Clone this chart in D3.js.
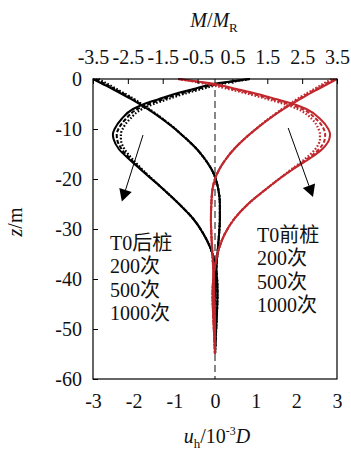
<!DOCTYPE html>
<html>
<head>
<meta charset="utf-8">
<script src="https://cdn.jsdelivr.net/npm/d3@7/dist/d3.min.js"></script>
<style>
  html, body { margin: 0; padding: 0; background: #fff; }
  svg { display: block; }
  text { font-family: "Liberation Serif", "Times New Roman", "Noto Sans CJK SC", serif; fill: #111; }
</style>
</head>
<body>
<svg id="chart" width="351" height="451"></svg>
<script>
// Depth below pile head (m)
const depth = [0, -1, -2, -3, -4, -5, -6, -8, -10, -11, -12, -14, -16, -18, -20, -22, -25, -28, -31, -34, -37, -40, -43, -46, -49, -52, -55];

// Horizontal displacement u_h / 10^-3 D
const rearDisp200  = [-2.87, -2.64, -2.42, -2.20, -1.99, -1.80, -1.62, -1.28, -0.97, -0.84, -0.70, -0.45, -0.25, -0.09, 0.02, 0.08, 0.12, 0.12, 0.10, 0.07, 0.04, 0.02, 0.00, -0.01, -0.01, 0.00, 0.00];
const rearDisp500  = [-2.94, -2.70, -2.47, -2.24, -2.03, -1.83, -1.64, -1.29, -0.98, -0.84, -0.70, -0.45, -0.25, -0.09, 0.02, 0.08, 0.12, 0.12, 0.10, 0.07, 0.04, 0.02, 0.00, -0.01, -0.01, 0.00, 0.00];
const rearDisp1000 = [-3.00, -2.76, -2.52, -2.29, -2.07, -1.86, -1.66, -1.30, -0.98, -0.84, -0.70, -0.45, -0.25, -0.09, 0.02, 0.08, 0.12, 0.12, 0.10, 0.07, 0.04, 0.02, 0.00, -0.01, -0.01, 0.00, 0.00];

const frontDisp200  = [2.87, 2.65, 2.44, 2.23, 2.02, 1.83, 1.65, 1.31, 1.00, 0.86, 0.72, 0.47, 0.27, 0.11, 0.00, -0.06, -0.09, -0.10, -0.09, -0.07, -0.05, -0.03, -0.02, -0.01, 0.00, 0.00, 0.00];
const frontDisp500  = [2.94, 2.71, 2.49, 2.27, 2.06, 1.86, 1.67, 1.32, 1.01, 0.86, 0.72, 0.47, 0.27, 0.11, 0.00, -0.06, -0.09, -0.10, -0.09, -0.07, -0.05, -0.03, -0.02, -0.01, 0.00, 0.00, 0.00];
const frontDisp1000 = [3.00, 2.77, 2.54, 2.31, 2.10, 1.89, 1.69, 1.33, 1.01, 0.86, 0.72, 0.47, 0.27, 0.11, 0.00, -0.06, -0.09, -0.10, -0.09, -0.07, -0.05, -0.03, -0.02, -0.01, 0.00, 0.00, 0.00];

// Bending moment M / M_R
const rearMoment200  = [1.00, 0.18, -0.38, -0.90, -1.34, -1.76, -2.09, -2.44, -2.65, -2.70, -2.70, -2.60, -2.37, -2.10, -1.80, -1.49, -1.03, -0.62, -0.33, -0.12, 0.00, 0.06, 0.07, 0.06, 0.04, 0.02, 0.00];
const rearMoment500  = [1.00, 0.07, -0.50, -1.03, -1.47, -1.89, -2.22, -2.56, -2.77, -2.82, -2.81, -2.68, -2.42, -2.13, -1.81, -1.49, -1.03, -0.62, -0.33, -0.12, 0.00, 0.06, 0.07, 0.06, 0.04, 0.02, 0.00];
const rearMoment1000 = [1.00, -0.05, -0.62, -1.16, -1.60, -2.03, -2.35, -2.68, -2.88, -2.93, -2.91, -2.76, -2.47, -2.15, -1.82, -1.49, -1.03, -0.62, -0.33, -0.12, 0.00, 0.06, 0.07, 0.06, 0.04, 0.02, 0.00];

const frontMoment200  = [-1.06, -0.24, 0.38, 0.96, 1.49, 1.99, 2.37, 2.78, 2.97, 3.01, 3.01, 2.88, 2.58, 2.20, 1.83, 1.47, 0.95, 0.55, 0.28, 0.11, 0.01, -0.05, -0.07, -0.06, -0.04, -0.02, 0.00];
const frontMoment500  = [-1.06, -0.12, 0.50, 1.09, 1.62, 2.12, 2.50, 2.90, 3.12, 3.16, 3.15, 2.99, 2.64, 2.23, 1.84, 1.47, 0.95, 0.55, 0.28, 0.11, 0.01, -0.05, -0.07, -0.06, -0.04, -0.02, 0.00];
const frontMoment1000 = [-1.06, 0.00, 0.62, 1.22, 1.75, 2.25, 2.62, 3.02, 3.25, 3.30, 3.28, 3.08, 2.70, 2.25, 1.84, 1.47, 0.95, 0.55, 0.28, 0.11, 0.01, -0.05, -0.07, -0.06, -0.04, -0.02, 0.00];

// Axis tick values
const dispTicks   = [-3, -2, -1, 0, 1, 2, 3];
const momentTicks = [-3.5, -2.5, -1.5, -0.5, 0.5, 1.5, 2.5, 3.5];
const depthTicks  = [0, -10, -20, -30, -40, -50, -60];

// Legend text
const legendRear  = ["T0后桩", "200次", "500次", "1000次"];
const legendFront = ["T0前桩", "200次", "500次", "1000次"];

// Trend arrows (u_h, z) from start to tip
const arrowRear  = [[-1.77, -11.2], [-2.29, -24.5]];
const arrowFront = [[1.80, -9.8], [2.41, -23.6]];

const RED = "#c1282e", BLACK = "#000";
const dashFor = { "200": "1.6,1.8", "500": "4,2", "1000": null };

const svg = d3.select("#chart");
const L = 93, R = 337, T = 79, B = 379;

const xU = d3.scaleLinear().domain([-3, 3]).range([L, R]);
const xM = d3.scaleLinear().domain([-3.5, 3.5]).range([L, R]);
const y  = d3.scaleLinear().domain([0, -60]).range([T, B]);

const FONT = 20;

// zero line
svg.append("line")
  .attr("x1", xU(0)).attr("x2", xU(0))
  .attr("y1", y(0)).attr("y2", y(-60))
  .attr("stroke", "#555").attr("stroke-width", 1.4)
  .attr("stroke-dasharray", "7,4");

// curves
const curves = [
  { vals: rearDisp200, scale: xU, color: BLACK, n: "200" },
  { vals: rearDisp500, scale: xU, color: BLACK, n: "500" },
  { vals: rearDisp1000, scale: xU, color: BLACK, n: "1000" },
  { vals: rearMoment200, scale: xM, color: BLACK, n: "200" },
  { vals: rearMoment500, scale: xM, color: BLACK, n: "500" },
  { vals: rearMoment1000, scale: xM, color: BLACK, n: "1000" },
  { vals: frontDisp200, scale: xU, color: RED, n: "200" },
  { vals: frontDisp500, scale: xU, color: RED, n: "500" },
  { vals: frontDisp1000, scale: xU, color: RED, n: "1000" },
  { vals: frontMoment200, scale: xM, color: RED, n: "200" },
  { vals: frontMoment500, scale: xM, color: RED, n: "500" },
  { vals: frontMoment1000, scale: xM, color: RED, n: "1000" }
];

const plot = svg.append("g");
curves.forEach(c => {
  const line = d3.line()
    .x(i => c.scale(c.vals[i]))
    .y(i => y(depth[i]))
    .curve(d3.curveMonotoneY);
  plot.append("path")
    .attr("d", line(d3.range(depth.length)))
    .attr("fill", "none")
    .attr("stroke", c.color)
    .attr("stroke-width", c.n === "200" ? 2.2 : 2)
    .attr("stroke-dasharray", dashFor[c.n]);
});

// arrows
function drawArrow(a) {
  const x1 = xU(a[0][0]), y1 = y(a[0][1]);
  const x2 = xU(a[1][0]), y2 = y(a[1][1]);
  const ang = Math.atan2(y2 - y1, x2 - x1);
  const len = 12, half = 6.5;
  const bx = x2 - len * Math.cos(ang), by = y2 - len * Math.sin(ang);
  svg.append("line")
    .attr("x1", x1).attr("y1", y1).attr("x2", bx).attr("y2", by)
    .attr("stroke", "#000").attr("stroke-width", 1);
  const px = -Math.sin(ang), py = Math.cos(ang);
  svg.append("path")
    .attr("d", `M${x2},${y2}L${bx + half * px},${by + half * py}L${bx - half * px},${by - half * py}Z`)
    .attr("fill", "#000");
}
drawArrow(arrowRear);
drawArrow(arrowFront);

// frame
svg.append("rect")
  .attr("x", L).attr("y", T).attr("width", R - L).attr("height", B - T)
  .attr("fill", "none").attr("stroke", "#000").attr("stroke-width", 1.2);

// top axis (M/M_R)
const topAxis = svg.append("g").attr("transform", `translate(0,${T})`)
  .call(d3.axisTop(xM).tickValues(momentTicks).tickSizeInner(-5).tickSizeOuter(0)
    .tickPadding(15).tickFormat(d => String(d)));
topAxis.select(".domain").remove();
topAxis.selectAll("line").attr("stroke", "#000");
topAxis.selectAll("text").attr("font-size", FONT).attr("font-family", null).attr("fill", "#111");

// left axis (z)
const leftAxis = svg.append("g").attr("transform", `translate(${L},0)`)
  .call(d3.axisLeft(y).tickValues(depthTicks).tickSizeInner(-5).tickSizeOuter(0)
    .tickPadding(11).tickFormat(d => String(d)));
leftAxis.select(".domain").remove();
leftAxis.selectAll("line").attr("stroke", "#000");
leftAxis.selectAll("text").attr("font-size", FONT).attr("font-family", null).attr("fill", "#111");

// bottom axis (u_h)
const bottomAxis = svg.append("g").attr("transform", `translate(0,${B})`)
  .call(d3.axisBottom(xU).tickValues(dispTicks).tickSize(0).tickPadding(29)
    .tickFormat(d => String(d)));
bottomAxis.select(".domain").remove();
bottomAxis.selectAll("text").attr("dy", "0").attr("font-size", FONT).attr("font-family", null).attr("fill", "#111");

// axis titles
const topTitle = svg.append("text").attr("x", 214).attr("y", 27)
  .attr("text-anchor", "middle").attr("font-size", FONT);
topTitle.append("tspan").attr("font-style", "italic").text("M");
topTitle.append("tspan").text("/");
topTitle.append("tspan").attr("font-style", "italic").text("M");
topTitle.append("tspan").attr("font-size", 13).attr("dy", 5).text("R");

const bottomTitle = svg.append("text").attr("x", 217).attr("y", 443)
  .attr("text-anchor", "middle").attr("font-size", FONT);
bottomTitle.append("tspan").attr("font-style", "italic").text("u");
bottomTitle.append("tspan").attr("font-size", 13).attr("dy", 5).text("h");
bottomTitle.append("tspan").attr("dy", -5).text("/10");
bottomTitle.append("tspan").attr("font-size", 12).attr("dy", -8).text("-3");
bottomTitle.append("tspan").attr("font-style", "italic").attr("dy", 8).text("D");

const leftTitle = svg.append("text")
  .attr("transform", "translate(22,222) rotate(-90)")
  .attr("text-anchor", "middle").attr("font-size", FONT);
leftTitle.append("tspan").attr("font-style", "italic").text("z");
leftTitle.append("tspan").text("/m");

// legend text blocks
function legendBlock(lines, x, y0) {
  lines.forEach((s, i) => {
    svg.append("text").attr("x", x).attr("y", y0 + i * 23.3)
      .attr("font-size", FONT).text(s);
  });
}
legendBlock(legendRear, 110, 250);
legendBlock(legendFront, 257, 242);
</script>
</body>
</html>
